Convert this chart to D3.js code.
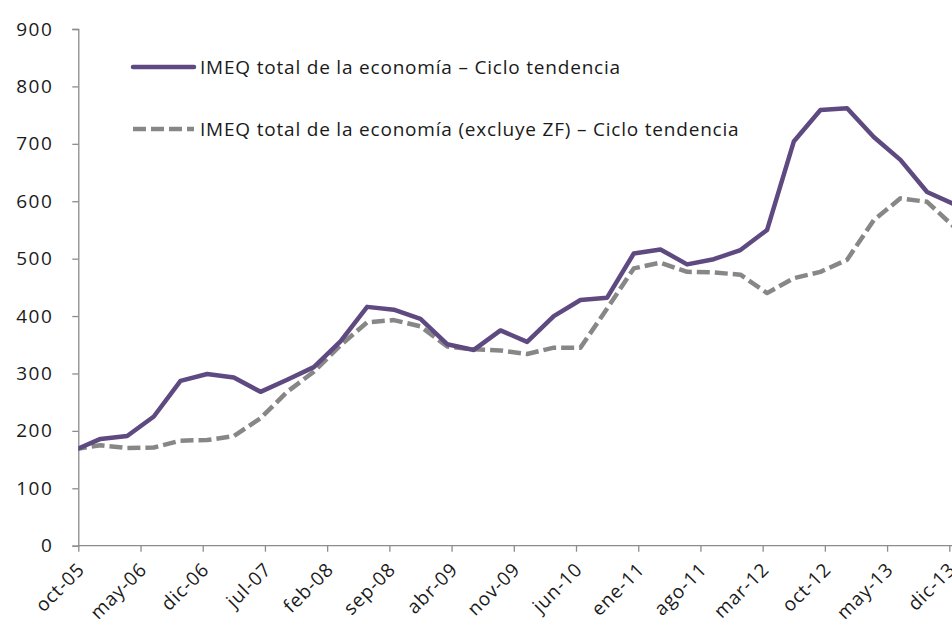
<!DOCTYPE html>
<html>
<head>
<meta charset="utf-8">
<script src="https://cdn.jsdelivr.net/npm/d3@7"></script>
<style>
  body { margin: 0; background: #fff; }
  text { font-family: "Open Sans", sans-serif; fill: #1a1a1a; }
</style>
</head>
<body>
<div id="chart"></div>
<script>
// x tick labels, one every 7 months
var tickLabels = ["oct-05", "may-06", "dic-06", "jul-07", "feb-08", "sep-08", "abr-09", "nov-09",
                  "jun-10", "ene-11", "ago-11", "mar-12", "oct-12", "may-13", "dic-13"];
var yTicks = [0, 100, 200, 300, 400, 500, 600, 700, 800, 900];

// quarterly values (trend-cycle)
var imeqTotal = [166, 186, 191, 225, 287, 299, 293, 268, 289, 311, 356, 416, 411, 395, 351, 341,
                 375, 355, 400, 428, 432, 509, 516, 490, 499, 515, 550, 704, 759, 762, 712, 672,
                 616, 595];
var imeqSinZF = [168, 175, 170, 171, 183, 184, 191, 222, 268, 303, 349, 389, 393, 382, 347, 342,
                 340, 334, 345, 345, 413, 483, 493, 477, 476, 472, 440, 466, 477, 498, 567, 605,
                 599, 556];

var legendLabels = ["IMEQ total de la economía – Ciclo tendencia",
                    "IMEQ total de la economía (excluye ZF) – Ciclo tendencia"];

var margin = {top: 29, right: 2.7, bottom: 80.3, left: 78.3},
    width = 952 - margin.left - margin.right,
    height = 626 - margin.top - margin.bottom;

var svg = d3.select("#chart")
  .append("svg")
    .attr("width", 952)
    .attr("height", 626);

var g = svg.append("g")
    .attr("transform", "translate(" + margin.left + "," + margin.top + ")");

// months counted from the first quarterly point; tick j sits at month 7j + 0.5
var x = d3.scaleLinear()
    .domain([0.5, 0.5 + 7 * (tickLabels.length - 1)])
    .range([0, width]);

var y = d3.scaleLinear()
    .domain([0, 900])
    .range([height, 0]);

// clip lines to the plot area (extends to the right edge of the image)
svg.append("defs").append("clipPath")
    .attr("id", "plotclip")
  .append("rect")
    .attr("x", 0)
    .attr("y", -10)
    .attr("width", 952 - margin.left)
    .attr("height", height + 10);

// Y axis
var yAxis = g.append("g")
    .call(d3.axisLeft(y).tickValues(yTicks).tickSize(6).tickPadding(19));
yAxis.select(".domain").attr("stroke", "#8c8c8c").attr("stroke-width", 1.3);
yAxis.selectAll(".tick line").attr("stroke", "#8c8c8c").attr("stroke-width", 1.3);
yAxis.selectAll("text")
    .style("font-size", "19px")
    .style("letter-spacing", "1.5px")
    .attr("fill", "#1a1a1a");

// X axis
var tickPos = tickLabels.map(function(d, i) { return 0.5 + 7 * i; });
var xAxis = g.append("g")
    .attr("transform", "translate(0," + height + ")")
    .call(d3.axisBottom(x).tickValues(tickPos).tickSize(6)
      .tickFormat(function(d, i) { return tickLabels[i]; }));
xAxis.select(".domain")
    .attr("d", "M0,0H" + (952 - margin.left))
    .attr("stroke", "#8c8c8c").attr("stroke-width", 1.3);
xAxis.selectAll(".tick line").attr("stroke", "#8c8c8c").attr("stroke-width", 1.3);
xAxis.selectAll("text")
    .style("font-size", "19px")
    .style("letter-spacing", "0.8px")
    .style("text-anchor", "end")
    .attr("fill", "#1a1a1a")
    .attr("x", 0)
    .attr("y", 0)
    .attr("dy", "0")
    .attr("transform", "translate(7,25) rotate(-45)");

// lines
var line = d3.line()
    .x(function(d, i) { return x(i * 3); })
    .y(function(d) { return y(d); });

var lines = g.append("g").attr("clip-path", "url(#plotclip)");

lines.append("path")
    .datum(imeqSinZF)
    .attr("fill", "none")
    .attr("stroke", "#878787")
    .attr("stroke-width", 4.5)
    .attr("stroke-dasharray", "13,5")
    .attr("stroke-linejoin", "round")
    .attr("d", line);

lines.append("path")
    .datum(imeqTotal)
    .attr("fill", "none")
    .attr("stroke", "#5e4a80")
    .attr("stroke-width", 4.5)
    .attr("stroke-linejoin", "round")
    .attr("d", line);

// legend
var legend = svg.append("g");
var legendStyles = [
  {color: "#5e4a80", dash: null, y: 67},
  {color: "#878787", dash: "13,5", y: 129}
];
legendStyles.forEach(function(s, i) {
  legend.append("line")
      .attr("x1", 133).attr("x2", 194)
      .attr("y1", s.y).attr("y2", s.y)
      .attr("stroke", s.color)
      .attr("stroke-width", 4.5)
      .attr("stroke-dasharray", s.dash)
      .attr("stroke-linecap", s.dash ? "butt" : "round");
  legend.append("text")
      .attr("x", 200)
      .attr("y", s.y)
      .attr("dy", "0.35em")
      .style("font-size", "19px")
      .style("letter-spacing", "0.8px")
      .text(legendLabels[i]);
});
</script>
</body>
</html>
